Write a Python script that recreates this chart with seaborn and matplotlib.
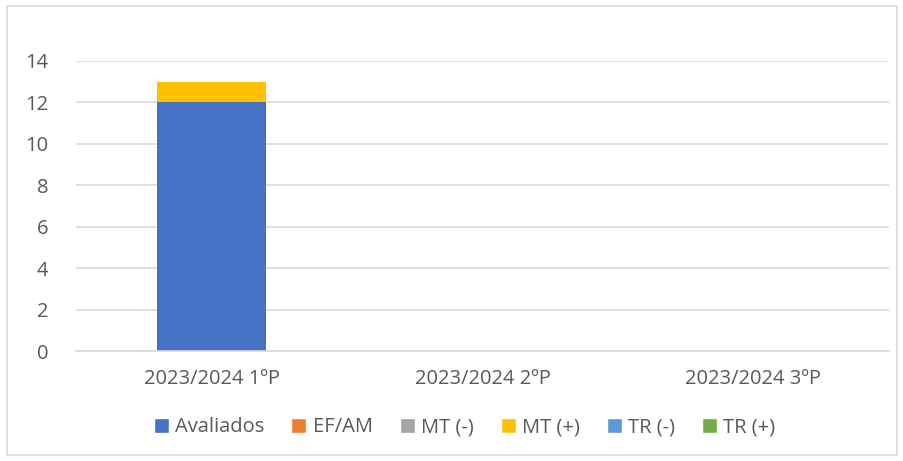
import pandas as pd
import numpy as np
import matplotlib
matplotlib.use('Agg')
import matplotlib.pyplot as plt
from matplotlib.patches import Patch, Rectangle
import seaborn as sns

sns.set_style('white')
plt.rcParams['font.family'] = ['Open Sans', 'DejaVu Sans']

# data
periods = ['2023/2024 1ºP', '2023/2024 2ºP', '2023/2024 3ºP']
series = ['Avaliados', 'EF/AM', 'MT (-)', 'MT (+)', 'TR (-)', 'TR (+)']
avaliados = [12, 0, 0]
ef_am = [0, 0, 0]
mt_minus = [0, 0, 0]
mt_plus = [1, 0, 0]
tr_minus = [0, 0, 0]
tr_plus = [0, 0, 0]
colors = ['#4472c4', '#ed7d31', '#a5a5a5', '#ffc000', '#5b9bd5', '#70ad47']

df = pd.DataFrame({'periodo': periods, 'Avaliados': avaliados, 'EF/AM': ef_am,
                   'MT (-)': mt_minus, 'MT (+)': mt_plus, 'TR (-)': tr_minus,
                   'TR (+)': tr_plus})
cum = df[series].cumsum(axis=1)
cum['periodo'] = df['periodo']

fig = plt.figure(figsize=(9.04, 4.61), dpi=100)
ax = fig.add_axes([0.0841, 0.2386, 0.8993, 0.6291])

# overlay cumulative totals, top layer first
for name, col in reversed(list(zip(series, colors))):
    sns.barplot(data=cum, x='periodo', y=name, color=col, width=0.4,
                saturation=1, ax=ax, order=periods, linewidth=0)

ax.set_ylim(0, 14)
ax.set_yticks(range(0, 15, 2))
ax.set_xlabel('')
ax.set_ylabel('')
ax.yaxis.grid(True, color='#d9d9d9', linewidth=1.2)
ax.set_axisbelow(True)
for s in ['top', 'right', 'left']:
    ax.spines[s].set_visible(False)
ax.spines['bottom'].set_color('#d9d9d9')
ax.spines['bottom'].set_linewidth(1.2)
ax.tick_params(axis='both', length=0, labelsize=14.5, colors='#595959')
ax.tick_params(axis='x', pad=13)
ax.tick_params(axis='y', pad=20)

handles = [Patch(facecolor=c, label=s) for s, c in zip(series, colors)]
fig.legend(handles=handles, loc='center', bbox_to_anchor=(0.514, 0.073), ncol=6,
           frameon=False, fontsize=14.5, labelcolor='#595959', handlelength=0.75,
           handleheight=0.75, handletextpad=0.3, columnspacing=1.35)

fig.add_artist(Rectangle((0.008, 0.013), 0.984, 0.974, transform=fig.transFigure,
                         fill=False, edgecolor='#d9d9d9', linewidth=1.2))

fig.savefig('out.png', dpi=100)
